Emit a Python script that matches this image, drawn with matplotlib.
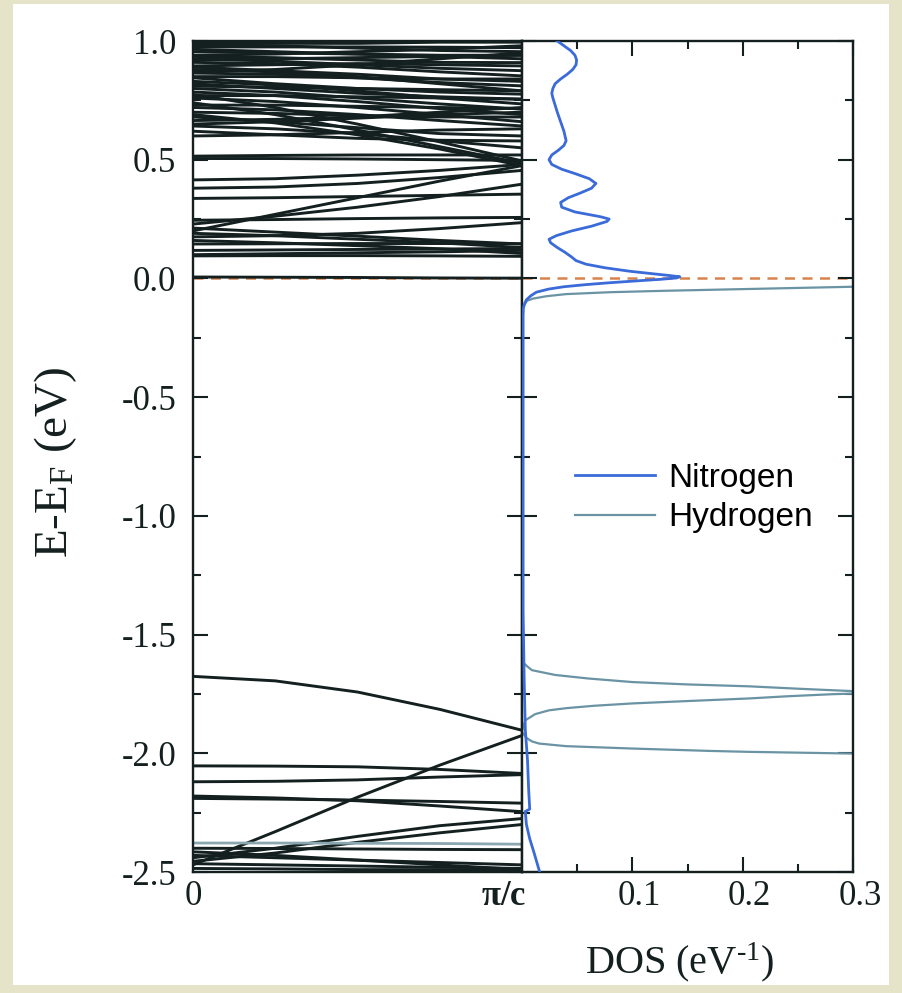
import numpy as np
import matplotlib
matplotlib.use("Agg")
import matplotlib.pyplot as plt
import matplotlib.transforms as mtransforms
from matplotlib.patches import Rectangle
from matplotlib.ticker import MultipleLocator

plt.rcParams['font.family'] = ['Liberation Serif', 'DejaVu Serif']
plt.rcParams['mathtext.fontset'] = 'custom'
plt.rcParams['mathtext.rm'] = 'Liberation Serif'
plt.rcParams['mathtext.it'] = 'Liberation Serif:italic'
plt.rcParams['mathtext.bf'] = 'Liberation Serif:bold'
plt.rcParams['axes.unicode_minus'] = False

nan = np.nan

# k points along Gamma -> pi/c (fraction of the zone edge)
K_PTS = [0.0, 0.25, 0.5, 0.75, 1.0]

# conduction side bands, E-EF (eV) at each k point
bands_cond = [
    [0.006, 0.005, 0.004, 0.002, 0.001],
    [0.095, 0.096, 0.096, 0.095, 0.093],
    [0.100, 0.104, 0.108, 0.112, 0.118],
    [0.118, 0.120, 0.122, 0.124, 0.126],
    [0.145, 0.146, 0.147, 0.147, 0.146],
    [0.160, 0.150, 0.138, 0.125, 0.105],
    [0.175, 0.180, 0.190, 0.210, 0.235],
    [0.190, 0.180, 0.165, 0.150, 0.130],
    [0.212, 0.195, 0.178, 0.160, 0.145],
    [0.200, 0.270, 0.340, 0.410, 0.475],
    [0.229, 0.262, 0.300, 0.345, 0.397],
    [0.245, 0.248, 0.252, 0.255, 0.257],
    [0.337, 0.340, 0.345, 0.350, 0.355],
    [0.380, 0.385, 0.400, 0.425, 0.455],
    [0.415, 0.420, 0.435, 0.455, 0.480],
    [0.505, 0.505, 0.503, 0.500, 0.497],
    [0.515, 0.518, 0.520, 0.520, 0.520],
    [0.775, 0.720, 0.650, 0.575, 0.495],
    [0.740, 0.690, 0.625, 0.555, 0.485],
    [0.690, 0.655, 0.605, 0.545, 0.475],
    [0.642, 0.630, 0.610, 0.580, 0.550],
    [0.620, 0.605, 0.590, 0.582, 0.579],
    [0.600, 0.605, 0.615, 0.625, 0.630],
    [0.680, 0.660, 0.635, 0.610, 0.600],
    [0.990, 0.990, 0.990, 0.995, 0.995],
    [0.985, 0.980, 0.970, 0.960, 0.955],
    [0.975, 0.975, 0.975, 0.974, 0.972],
    [0.965, 0.955, 0.945, 0.935, 0.925],
    [0.955, 0.950, 0.945, 0.940, 0.940],
    [0.935, 0.930, 0.920, 0.910, 0.909],
    [0.925, 0.915, 0.900, 0.885, 0.875],
    [0.920, 0.925, 0.930, 0.935, 0.940],
    [0.910, 0.905, 0.890, 0.870, 0.853],
    [0.895, 0.900, 0.905, 0.900, 0.895],
    [0.890, 0.875, 0.860, 0.840, 0.830],
    [0.880, 0.870, 0.850, 0.820, 0.790],
    [0.865, 0.860, 0.845, 0.825, 0.811],
    [0.850, 0.850, 0.845, 0.840, 0.840],
    [0.845, 0.820, 0.800, 0.785, 0.776],
    [0.830, 0.815, 0.790, 0.760, 0.735],
    [0.820, 0.800, 0.780, 0.765, 0.755],
    [0.810, 0.805, 0.800, 0.795, 0.790],
    [0.800, 0.785, 0.760, 0.735, 0.713],
    [0.785, 0.770, 0.745, 0.715, 0.690],
    [0.770, 0.770, 0.765, 0.760, 0.755],
    [0.760, 0.745, 0.720, 0.690, 0.660],
    [0.730, 0.730, 0.725, 0.720, 0.715],
    [0.720, 0.710, 0.690, 0.665, 0.642],
    [0.700, 0.695, 0.685, 0.680, 0.680],
    [0.665, 0.670, 0.680, 0.700, 0.720],
    [0.650, 0.660, 0.675, 0.690, 0.700],
    [0.870, 0.880, 0.900, 0.925, 0.950],
    [0.940, 0.945, 0.955, 0.965, 0.980],
]

# valence side bands
bands_val = [
    [-1.676, -1.695, -1.742, -1.815, -1.903],
    [-2.470, -2.330, -2.185, -2.050, -1.925],
    [-2.053, -2.054, -2.057, -2.068, -2.085],
    [-2.120, -2.118, -2.112, -2.100, -2.090],
    [-2.180, -2.188, -2.200, -2.222, -2.246],
    [-2.190, -2.193, -2.197, -2.203, -2.210],
    [-2.440, -2.400, -2.350, -2.305, -2.275],
    [-2.455, -2.420, -2.375, -2.335, -2.300],
    [-2.400, -2.401, -2.403, -2.405, -2.406],
    [-2.415, -2.430, -2.450, -2.470, -2.490],
    [-2.430, -2.440, -2.450, -2.460, -2.470],
    [-2.465, -2.470, -2.475, -2.480, -2.485],
    [-2.485, -2.487, -2.490, -2.490, -2.495],
]
bands_faint = [
    [-2.378, -2.378, -2.379, -2.380, -2.383],
]

# projected DOS, nitrogen
dos_e_n = [1.00, 0.98, 0.96, 0.94, 0.92, 0.90, 0.88, 0.86, 0.84, 0.82, 0.80,
           0.78, 0.76, 0.73, 0.70, 0.66, 0.62, 0.58, 0.56, 0.54, 0.52, 0.50,
           0.48, 0.46, 0.44, 0.42, 0.40, 0.38, 0.36, 0.34, 0.32, 0.30, 0.28,
           0.26, 0.25, 0.24, 0.22, 0.20, 0.18, 0.165, 0.15, 0.13, 0.11, 0.09,
           0.075, 0.06, 0.045, 0.03, 0.02, 0.012, 0.007, 0.002, -0.004, -0.01,
           -0.018, -0.026, -0.035, -0.045, -0.058, -0.073, -0.09, -0.11, -0.13,
           -0.20, -0.60, -1.00, -1.40, -1.70, -1.90, -2.03, -2.15, -2.235,
           -2.245, -2.30, -2.36, -2.42, -2.50]
dos_n = [0.032, 0.038, 0.044, 0.048, 0.0495, 0.049, 0.046, 0.041, 0.035, 0.030,
         0.028, 0.027, 0.028, 0.030, 0.032, 0.035, 0.038, 0.040, 0.038, 0.033,
         0.027, 0.0245, 0.027, 0.036, 0.049, 0.061, 0.067, 0.063, 0.053, 0.042,
         0.035, 0.036, 0.048, 0.071, 0.079, 0.077, 0.063, 0.045, 0.031, 0.0245,
         0.026, 0.032, 0.039, 0.045, 0.049, 0.058, 0.075, 0.098, 0.118, 0.134,
         0.143, 0.140, 0.125, 0.105, 0.080, 0.058, 0.038, 0.024, 0.013, 0.008,
         0.004, 0.002, 0.001, 0.001, 0.001, 0.001, 0.001, 0.002, 0.003, 0.005,
         0.006, 0.007, 0.003, 0.004, 0.007, 0.011, 0.016]

# projected DOS, hydrogen (nan where the peaks run off the panel)
dos_e_h = [1.00, 0.0, nan, -0.032, -0.035, -0.040, -0.046,
           -0.052, -0.058, -0.066, -0.075, -0.085, -0.094, -0.105, -0.12, -0.20,
           -1.60, -1.61, -1.622, -1.635, -1.65, -1.67, -1.685, -1.70, -1.71,
           -1.718, -1.728, -1.737, -1.745, -1.751, -1.76, -1.769, -1.78, -1.79,
           -1.80, -1.81, -1.819, -1.835, -1.861, -1.89, -1.91, -1.935, -1.95,
           -1.959, -1.97, -1.98, -1.99, -1.994, -2.001, -2.004, nan,
           -2.06, -2.50]
dos_h = [0.0, 0.0, nan, 0.36, 0.30, 0.25, 0.19, 0.13, 0.08, 0.04,
         0.022, 0.01, 0.0045, 0.003, 0.0015, 0.0, 0.0, 0.001, 0.002, 0.005,
         0.009, 0.03, 0.06, 0.10, 0.15, 0.206, 0.25, 0.294, 0.33, 0.282, 0.24,
         0.206, 0.15, 0.10, 0.065, 0.04, 0.0245, 0.012, 0.003, 0.001, 0.0,
         0.004, 0.009, 0.0155, 0.04, 0.10, 0.17, 0.206, 0.299, 0.36, nan,
         0.0, 0.0]

W, H = 902, 993
fig = plt.figure(figsize=(W / 100, H / 100), dpi=100, facecolor='#e5e3c8')
fig.patches.append(Rectangle((13 / W, 1 - 985 / H), (889 - 13) / W, (985 - 4) / H,
                             transform=fig.transFigure, facecolor='white',
                             edgecolor='none', zorder=-10))


def box(x0, y0, x1, y1):
    return [x0 / W, 1 - y1 / H, (x1 - x0) / W, (y1 - y0) / H]


ink = '#14201f'
ax_b = fig.add_axes(box(193, 41, 522, 872))
ax_d = fig.add_axes(box(522, 41, 853, 872), sharey=ax_b)

for b in bands_cond + bands_val:
    ax_b.plot(K_PTS, b, color=ink, lw=2.1)
for b in bands_faint:
    ax_b.plot(K_PTS, b, color='#8aa6b0', lw=2.0)

for ax in (ax_b, ax_d):
    ax.axhline(0.0, color='#d8844e', lw=1.8, ls=(0, (4, 3)), zorder=1)
    for s in ax.spines.values():
        s.set_linewidth(1.7)
        s.set_color(ink)

ax_d.plot(dos_n, dos_e_n, color='#3a6bd9', lw=2.0, label='Nitrogen', zorder=3)
ax_d.plot(dos_h, dos_e_h, color='#6a93a3', lw=1.6, label='Hydrogen', zorder=2)

ax_b.set_xlim(0, 1)
ax_b.set_ylim(-2.5, 1.0)
ax_b.set_yticks(np.arange(-2.5, 1.01, 0.5))
ax_b.set_yticklabels(['%.1f' % v for v in np.arange(-2.5, 1.01, 0.5)])
ax_b.yaxis.set_minor_locator(MultipleLocator(0.25))
ax_b.set_xticks([0, 1])
ax_b.set_xticklabels(['0', r'$\mathbf{\pi/c}$'])
ax_b.tick_params(axis='x', length=0, pad=6, labelsize=25, colors=ink)
ax_b.tick_params(axis='y', which='both', direction='in', left=True, right=True,
                 labelsize=25, pad=12, width=1.5, colors=ink)
ax_b.tick_params(axis='y', which='major', length=11)
ax_b.tick_params(axis='y', which='minor', length=6)
pic = ax_b.get_xticklabels()[1]
pic.set_transform(pic.get_transform() +
                  mtransforms.ScaledTranslation(-0.18, 0, fig.dpi_scale_trans))

ax_d.set_xlim(0, 0.3)
ax_d.set_xticks([0.1, 0.2, 0.3])
ax_d.set_xticklabels(['0.1', '0.2', '0.3'])
ax_d.xaxis.set_minor_locator(MultipleLocator(0.05))
ax_d.tick_params(axis='both', which='both', direction='in', top=True, bottom=True,
                 left=True, right=True, width=1.5, colors=ink)
ax_d.tick_params(axis='both', which='major', length=11)
ax_d.tick_params(axis='both', which='minor', length=6)
ax_d.tick_params(axis='x', labelsize=25, pad=6)
ax_d.tick_params(axis='y', labelleft=False)
for lab in ax_d.get_xticklabels():
    lab.set_transform(lab.get_transform() +
                      mtransforms.ScaledTranslation(0.07, 0, fig.dpi_scale_trans))

ax_d.legend(loc='upper left', bbox_to_anchor=(575 / W, 1 - 463 / H),
            bbox_transform=fig.transFigure, frameon=False, borderpad=0,
            borderaxespad=0, handlelength=2.4, handletextpad=0.4,
            labelspacing=0.25,
            prop={'family': 'Liberation Sans', 'size': 24})

fig.text(56 / W, 1 - 462 / H, r'E-E$_{\rm F}$ (eV)', rotation=90, ha='center',
         va='center', fontsize=34, color=ink)
fig.text(680 / W, 1 - 962 / H, r'DOS (eV$^{\text{-1}}$)', ha='center',
         va='center', fontsize=29, color=ink)

fig.savefig('out.png', dpi=100, facecolor=fig.get_facecolor())
